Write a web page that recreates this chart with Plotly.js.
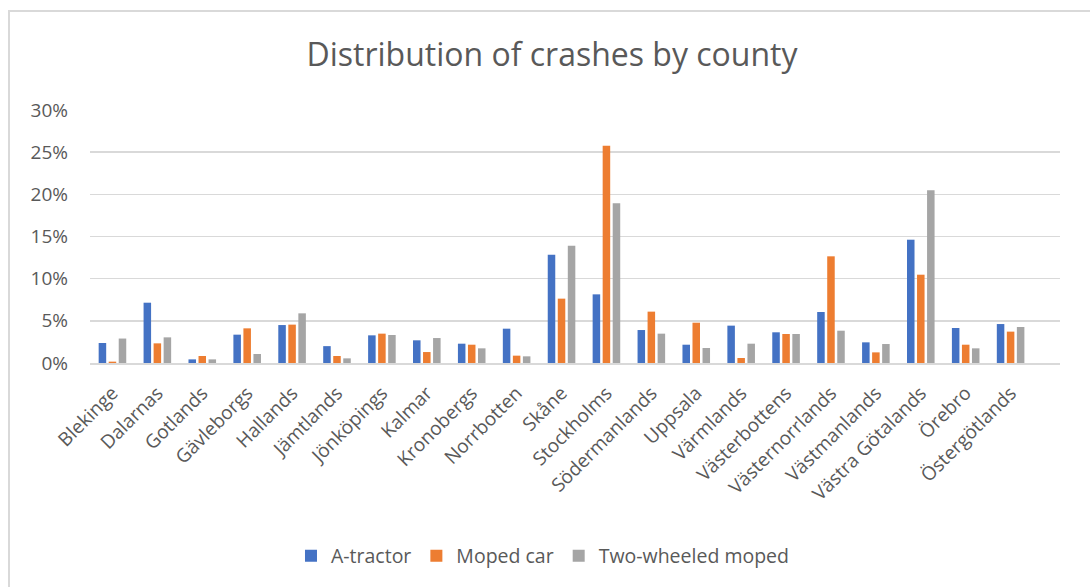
<!DOCTYPE html>
<html>
<head>
<meta charset="utf-8">
<script src="https://cdn.plot.ly/plotly-3.0.1.min.js"></script>
<style>
  html, body { margin:0; padding:0; background:#fff; }
  #chart { position:absolute; left:0; top:0; width:1090px; height:587px; }
  #frame { position:absolute; left:8px; top:10px; width:1100px; height:600px; border-left:2px solid #d9d9d9; border-top:2px solid #d9d9d9; pointer-events:none; }
</style>
</head>
<body>
<div id="chart"></div>
<div id="frame"></div>
<script>
const counties = ["Blekinge","Dalarnas","Gotlands","Gävleborgs","Hallands","Jämtlands","Jönköpings","Kalmar","Kronobergs","Norrbotten","Skåne","Stockholms","Södermanlands","Uppsala","Värmlands","Västerbottens","Västernorrlands","Västmanlands","Västra Götalands","Örebro","Östergötlands"];
const aTractor  = [0.0237,0.0715,0.0043,0.0336,0.0450,0.0200,0.0328,0.0269,0.0229,0.0407,0.1285,0.0814,0.0391,0.0217,0.0443,0.0364,0.0605,0.0245,0.1462,0.0415,0.0462];
const mopedCar  = [0.0016,0.0233,0.0083,0.0411,0.0455,0.0083,0.0348,0.0130,0.0217,0.0087,0.0763,0.2577,0.0609,0.0478,0.0059,0.0344,0.1265,0.0126,0.1047,0.0217,0.0372];
const twoWheel  = [0.0290,0.0304,0.0043,0.0107,0.0589,0.0055,0.0332,0.0296,0.0174,0.0079,0.1390,0.1893,0.0348,0.0178,0.0229,0.0344,0.0383,0.0225,0.2047,0.0174,0.0427];
const seriesNames = ["A-tractor","Moped car","Two-wheeled moped"];
const seriesColors = ["#4472C4","#ED7D31","#A5A5A5"];
const yTicks = [0,0.05,0.10,0.15,0.20,0.25,0.30];
const yTickText = ["0%","5%","10%","15%","20%","25%","30%"];

const font = "Open Sans, DejaVu Sans, sans-serif";
const values = [aTractor, mopedCar, twoWheel];
const traces = values.map((v,i)=>({
  type:"bar", x:counties, y:v, name:seriesNames[i],
  marker:{color:seriesColors[i]}, hoverinfo:"skip"
}));

const layout = {
  width:1090, height:587,
  paper_bgcolor:"#fff", plot_bgcolor:"#fff",
  margin:{l:90, r:30, t:110, b:224},
  title:{text:"Distribution of crashes by county", font:{family:font, size:32, color:"#595959"},
         x:552/1090, xanchor:"center", xref:"container", y:1-55/587, yanchor:"middle"},
  barmode:"group", bargap:0.33, bargroupgap:0.25,
  xaxis:{type:"category", range:[-0.5, 21.1], tickangle:-45, tickfont:{family:font, size:19, color:"#595959"},
         showline:true, linecolor:"#d9d9d9", linewidth:1.5, ticks:"", showgrid:false, automargin:false,
         ticklabelstandoff:10},
  yaxis:{range:[0,0.30], tickvals:yTicks, ticktext:yTickText, tickfont:{family:font, size:19, color:"#595959"},
         showgrid:true, gridcolor:"#d9d9d9", gridwidth:1.5, zeroline:false, showline:false, ticks:"",
         ticklabelstandoff:21, automargin:false},
  showlegend:true,
  legend:{orientation:"h", x:0.467, xanchor:"center", y:-0.763, yanchor:"middle",
          font:{family:font, size:19.5, color:"#595959"}, itemwidth:30, traceorder:"normal"}
};

Plotly.newPlot("chart", traces, layout, {displayModeBar:false, staticPlot:true});
</script>
</body>
</html>
